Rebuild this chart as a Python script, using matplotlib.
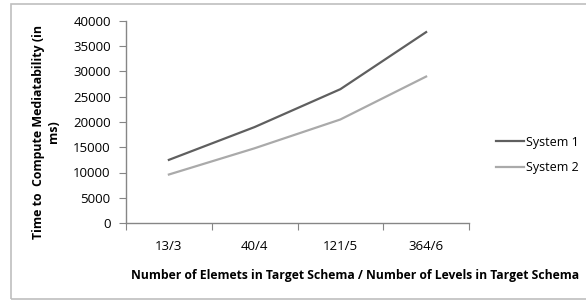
import matplotlib
matplotlib.use("Agg")
import matplotlib.pyplot as plt
from matplotlib.patches import Rectangle

categories = ["13/3", "40/4", "121/5", "364/6"]
system1 = [12500, 19000, 26500, 37800]
system2 = [9600, 14800, 20500, 29000]
yticks = [0, 5000, 10000, 15000, 20000, 25000, 30000, 35000, 40000]

plt.rcParams['font.family'] = ['Open Sans', 'DejaVu Sans']

W, H = 586, 301
fig = plt.figure(figsize=(W / 100, H / 100), dpi=100)
fig.patches.append(Rectangle((11 / W, 1 - 299 / H), 1.2, 295 / H, transform=fig.transFigure,
                             fill=False, edgecolor='#BFBFBF', linewidth=1.2))

ax = fig.add_axes([126 / W, 1 - 223 / H, (469 - 126) / W, (223 - 21) / H])
x = list(range(len(categories)))
ax.plot(x, system1, color='#5F5F5F', linewidth=1.6, label='System 1')
ax.plot(x, system2, color='#AAAAAA', linewidth=1.6, label='System 2')

ax.set_xlim(-0.5, len(categories) - 0.5)
ax.set_ylim(0, 40000)
ax.set_yticks(yticks)
ax.set_yticklabels([str(v) for v in yticks])
ax.set_xticks([i - 0.5 for i in range(len(categories) + 1)])
ax.set_xticklabels([])
ax.set_xticks(x, minor=True)
ax.set_xticklabels(categories, minor=True)
ax.tick_params(axis='x', which='minor', length=0, pad=12, labelsize=9.5)
ax.tick_params(axis='x', which='major', length=5, color='#868686', direction='out')
ax.tick_params(axis='y', length=5, color='#868686', direction='out', labelsize=9.5, pad=6)

for s in ['top', 'right']:
    ax.spines[s].set_visible(False)
for s in ['left', 'bottom']:
    ax.spines[s].set_color('#868686')
    ax.spines[s].set_linewidth(1.0)

fig.text(355 / W, 1 - 275 / H, "Number of Elemets in Target Schema / Number of Levels in Target Schema",
         ha='center', va='center', fontsize=8.7, fontweight='bold')
fig.text(46 / W, 1 - 132 / H, "Time to  Compute Mediatability (in\nms)",
         ha='center', va='center', rotation=90, fontsize=8.9, fontweight='bold', linespacing=1.1)

fig.legend(loc='center left', bbox_to_anchor=(485 / W, 1 - 155 / H), frameon=False,
           fontsize=9, handlelength=2.2, handletextpad=0.2, labelspacing=1.0)

fig.savefig("out.png", dpi=100)
